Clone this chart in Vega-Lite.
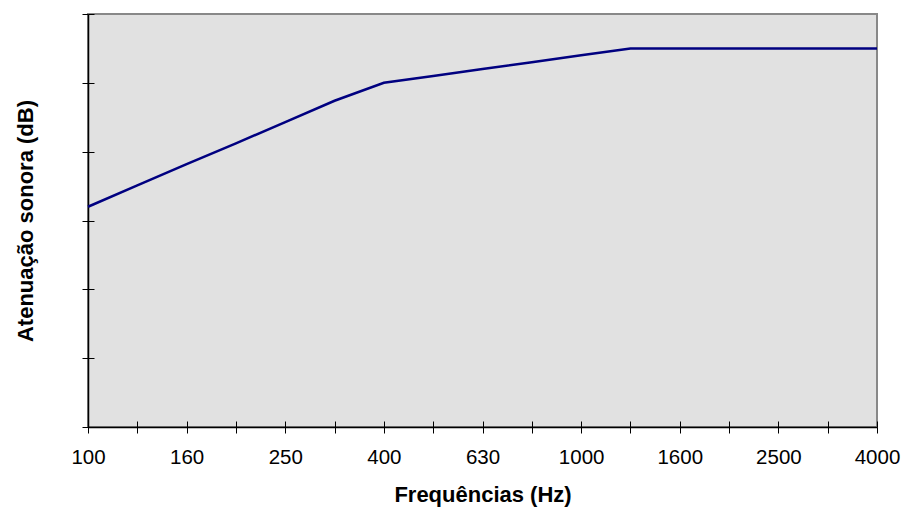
{
  "$schema": "https://vega.github.io/schema/vega-lite/v6.json",
  "width": 789,
  "height": 413,
  "autosize": "none",
  "padding": {"left": 88, "top": 14, "right": 24, "bottom": 82},
  "background": "white",
  "config": {
    "view": {"fill": "#e1e1e1", "stroke": "#888888", "strokeWidth": 2},
    "font": "Liberation Sans"
  },
  "data": {
    "values": [
      {"freq": "100", "db": 32},
      {"freq": "125", "db": 35.1},
      {"freq": "160", "db": 38.2},
      {"freq": "200", "db": 41.2},
      {"freq": "250", "db": 44.3},
      {"freq": "315", "db": 47.4},
      {"freq": "400", "db": 50},
      {"freq": "500", "db": 51},
      {"freq": "630", "db": 52},
      {"freq": "800", "db": 53},
      {"freq": "1000", "db": 54},
      {"freq": "1250", "db": 55},
      {"freq": "1600", "db": 55},
      {"freq": "2000", "db": 55},
      {"freq": "2500", "db": 55},
      {"freq": "3150", "db": 55},
      {"freq": "4000", "db": 55}
    ]
  },
  "layer": [
    {
      "mark": {"type": "line", "color": "#000080", "strokeWidth": 2.5},
      "encoding": {
        "x": {
          "field": "freq", "type": "ordinal", "sort": null,
          "scale": {"type": "point", "padding": 0},
          "axis": {
            "orient": "bottom",
            "title": "Frequências (Hz)",
            "labelExpr": "indexof(['100','160','250','400','630','1000','1600','2500','4000'], datum.label) >= 0 ? datum.label : ''",
            "labelAngle": 0,
            "labelOverlap": false,
            "labelFlush": false,
            "labelFontSize": 20.5,
            "labelColor": "black",
            "labelPadding": 14,
            "tickSize": 6,
            "tickColor": "black",
            "domainColor": "black",
            "domainWidth": 1.5,
            "titleFontSize": 22,
            "titleFontWeight": "bold",
            "titleColor": "black",
            "titlePadding": 17,
            "grid": false
          }
        },
        "y": {
          "field": "db", "type": "quantitative",
          "scale": {"domain": [0, 60]},
          "axis": {
            "orient": "left",
            "values": [0, 10, 20, 30, 40, 50, 60],
            "labels": false,
            "tickSize": 6,
            "tickColor": "black",
            "domainColor": "black",
            "domainWidth": 1.5,
            "title": "Atenuação sonora (dB)",
            "titleFontSize": 22,
            "titleFontWeight": "bold",
            "titleColor": "black",
            "titlePadding": 44,
            "grid": false
          }
        }
      }
    },
    {
      "mark": {"type": "line", "opacity": 0},
      "encoding": {
        "x": {
          "field": "freq", "type": "ordinal", "sort": null,
          "axis": {
            "orient": "bottom", "title": null, "labels": false,
            "domain": false, "tickSize": -6, "tickColor": "black", "grid": false
          }
        },
        "y": {
          "field": "db", "type": "quantitative",
          "axis": {
            "orient": "left", "title": null, "labels": false,
            "values": [0, 10, 20, 30, 40, 50, 60],
            "domain": false, "tickSize": -6, "tickColor": "black", "grid": false
          }
        }
      }
    }
  ],
  "resolve": {"axis": {"x": "independent", "y": "independent"}}
}
